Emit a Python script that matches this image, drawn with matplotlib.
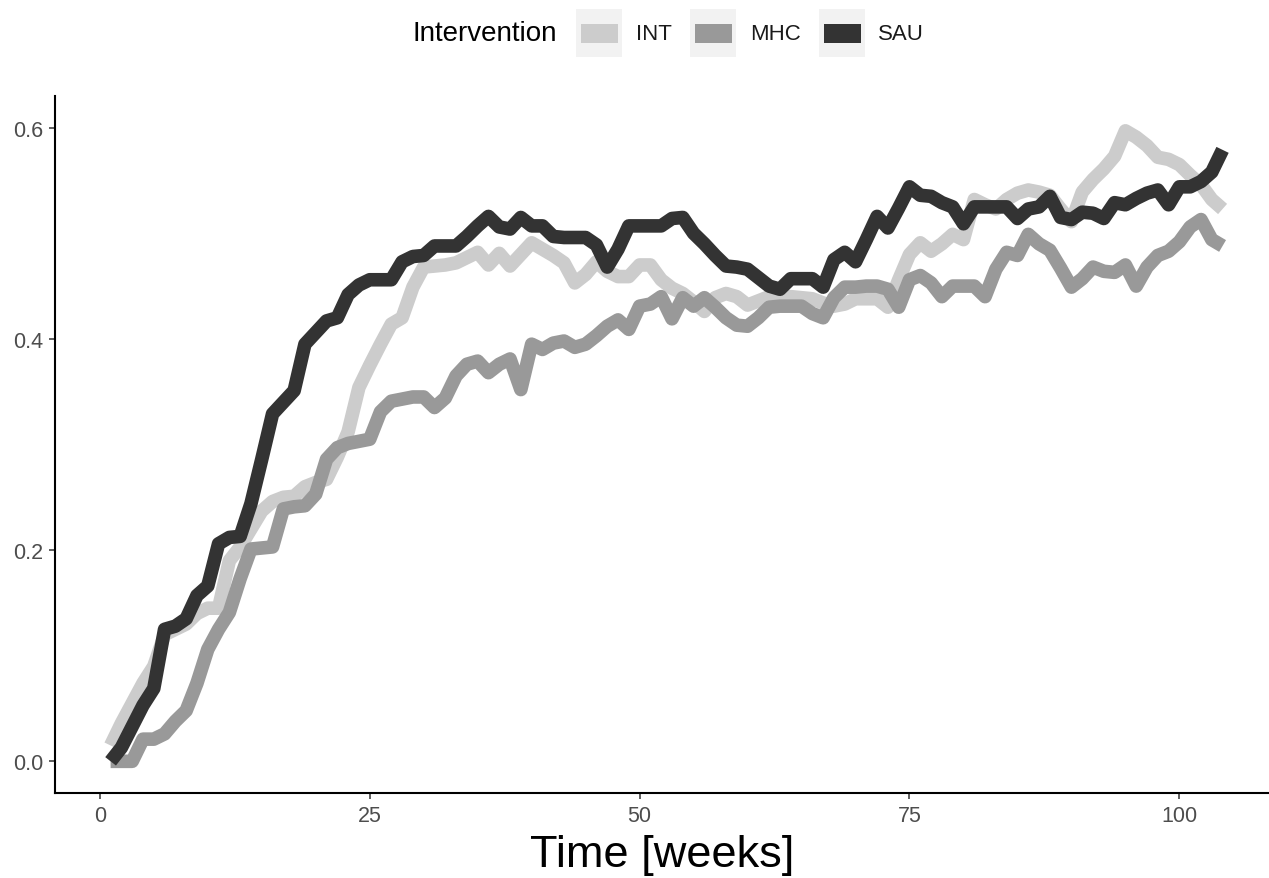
import matplotlib
matplotlib.use("Agg")
import matplotlib.pyplot as plt
from matplotlib.patches import Rectangle

plt.rcParams['font.family'] = ['Liberation Sans', 'DejaVu Sans']

weeks = list(range(1, 105))

int_vals = [0.015, 0.036, 0.055, 0.074, 0.090, 0.120, 0.125, 0.130, 0.140, 0.145,
            0.145, 0.190, 0.203, 0.220, 0.237, 0.246, 0.250, 0.251, 0.260, 0.264,
            0.267, 0.288, 0.312, 0.354, 0.375, 0.395, 0.414, 0.420, 0.449, 0.468,
            0.469, 0.470, 0.472, 0.477, 0.482, 0.470, 0.481, 0.469, 0.480, 0.491,
            0.485, 0.479, 0.472, 0.453, 0.461, 0.473, 0.464, 0.459, 0.459, 0.470,
            0.470, 0.456, 0.448, 0.443, 0.435, 0.426, 0.439, 0.443, 0.440, 0.432,
            0.436, 0.440, 0.440, 0.440, 0.439, 0.438, 0.434, 0.431, 0.433, 0.438,
            0.438, 0.438, 0.430, 0.456, 0.480, 0.491, 0.483, 0.490, 0.499, 0.494,
            0.532, 0.527, 0.523, 0.532, 0.538, 0.541, 0.539, 0.536, 0.523, 0.511,
            0.539, 0.551, 0.561, 0.573, 0.597, 0.591, 0.583, 0.572, 0.570, 0.565,
            0.555, 0.546, 0.532, 0.523]

mhc_vals = [0.000, 0.000, 0.000, 0.021, 0.021, 0.026, 0.038, 0.048, 0.074, 0.106,
            0.125, 0.141, 0.173, 0.201, 0.202, 0.203, 0.239, 0.241, 0.242, 0.253,
            0.286, 0.297, 0.301, 0.303, 0.305, 0.331, 0.341, 0.343, 0.345, 0.345,
            0.335, 0.344, 0.365, 0.376, 0.379, 0.368, 0.376, 0.381, 0.352, 0.395,
            0.390, 0.396, 0.398, 0.392, 0.395, 0.403, 0.412, 0.418, 0.409, 0.431,
            0.433, 0.440, 0.419, 0.439, 0.431, 0.439, 0.430, 0.420, 0.413, 0.412,
            0.420, 0.430, 0.431, 0.431, 0.431, 0.424, 0.420, 0.439, 0.449, 0.449,
            0.450, 0.450, 0.447, 0.430, 0.456, 0.460, 0.453, 0.440, 0.450, 0.450,
            0.450, 0.440, 0.466, 0.482, 0.479, 0.499, 0.490, 0.484, 0.467, 0.449,
            0.457, 0.468, 0.464, 0.463, 0.470, 0.450, 0.468, 0.479, 0.483, 0.492,
            0.506, 0.513, 0.494, 0.488]

sau_vals = [0.000, 0.013, 0.033, 0.053, 0.069, 0.125, 0.128, 0.135, 0.157, 0.166,
            0.206, 0.212, 0.213, 0.244, 0.286, 0.329, 0.340, 0.351, 0.395, 0.406,
            0.417, 0.420, 0.442, 0.451, 0.456, 0.456, 0.456, 0.473, 0.478, 0.479,
            0.488, 0.488, 0.488, 0.497, 0.507, 0.516, 0.506, 0.504, 0.515, 0.507,
            0.507, 0.497, 0.496, 0.496, 0.496, 0.489, 0.468, 0.485, 0.507, 0.507,
            0.507, 0.507, 0.514, 0.515, 0.500, 0.490, 0.479, 0.469, 0.468, 0.466,
            0.458, 0.450, 0.447, 0.457, 0.457, 0.457, 0.449, 0.475, 0.482, 0.473,
            0.494, 0.516, 0.505, 0.524, 0.544, 0.536, 0.535, 0.529, 0.525, 0.509,
            0.525, 0.525, 0.525, 0.525, 0.514, 0.523, 0.525, 0.535, 0.515, 0.513,
            0.520, 0.519, 0.514, 0.529, 0.527, 0.533, 0.538, 0.541, 0.527, 0.544,
            0.544, 0.549, 0.558, 0.579]

groups = ["INT", "MHC", "SAU"]
colors = ["#cccccc", "#999999", "#333333"]
series = [int_vals, mhc_vals, sau_vals]

x_ticks = [0, 25, 50, 75, 100]
y_ticks = [0.0, 0.2, 0.4, 0.6]
y_tick_labels = ["0.0", "0.2", "0.4", "0.6"]

W, H = 1269, 879
fig = plt.figure(figsize=(W / 100, H / 100), dpi=100)

def fx(px):
    return px / W

def fy(py):
    return 1 - py / H

L, R, T, B = 55, 1269, 97, 794
ax = fig.add_axes([fx(L), fy(B), fx(R) - fx(L), fy(T) - fy(B)])

for name, col, vals in zip(groups, colors, series):
    ax.plot(weeks, vals, color=col, linewidth=9.8, solid_joinstyle='round',
            solid_capstyle='butt')

ax.set_xlim(-4.15, 108.3)
ax.set_ylim(-0.03, 0.63)
ax.set_xticks(x_ticks)
ax.set_xticklabels([str(t) for t in x_ticks])
ax.set_yticks(y_ticks)
ax.set_yticklabels(y_tick_labels)
for s in ['top', 'right']:
    ax.spines[s].set_visible(False)
for s in ['left', 'bottom']:
    ax.spines[s].set_linewidth(1.5)
    ax.spines[s].set_color('black')
ax.tick_params(axis='both', length=4.5, width=1.1, color='#333333',
               labelcolor='#4d4d4d', labelsize=15.5, pad=4)
ax.set_xlabel("Time [weeks]", fontsize=32.5, color='black', labelpad=6)

# Legend (top)
fig.text(fx(412), fy(34), "Intervention", fontsize=20, color='black',
         ha='left', va='center')
key_x = [576, 690, 819]
lab_x = [636, 750, 878]
for kx, lx, col, name in zip(key_x, lab_x, colors, groups):
    fig.add_artist(Rectangle((fx(kx), fy(58)), fx(46), 48 / H,
                             transform=fig.transFigure, facecolor='#f2f2f2',
                             edgecolor='none'))
    fig.add_artist(Rectangle((fx(kx + 4.5), fy(44)), fx(37), 19 / H,
                             transform=fig.transFigure, facecolor=col,
                             edgecolor='none'))
    fig.text(fx(lx), fy(34), name, fontsize=16, color='#1a1a1a',
             ha='left', va='center')

fig.savefig("out.png", dpi=100, facecolor='white')
